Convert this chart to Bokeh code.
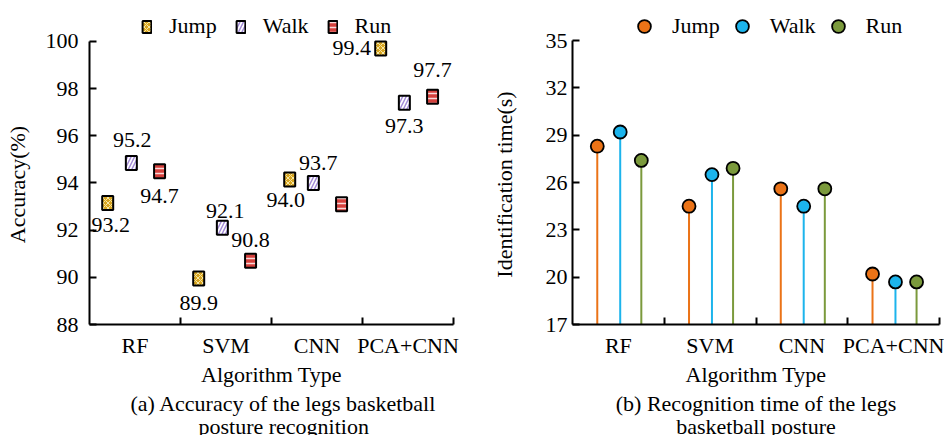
import numpy as np
from bokeh.plotting import figure
from bokeh.models import Range1d, FixedTicker, Legend, LegendItem, ColumnDataSource, Title
from bokeh.layouts import row
from bokeh.embed import file_html
from bokeh.resources import INLINE
from bokeh.core.properties import value

# ---------------- data ----------------
categories = ["RF", "SVM", "CNN", "PCA+CNN"]
series = ["Jump", "Walk", "Run"]

acc_jump = [93.15, 89.95, 94.15, 99.7]
acc_walk = [94.85, 92.1, 94.0, 97.4]
acc_run = [94.5, 90.7, 93.1, 97.65]
acc_jump_labels = ["93.2", "89.9", "94.0", "99.4"]
acc_walk_labels = ["95.2", "92.1", "93.7", "97.3"]
acc_run_labels = ["94.7", "90.8", "", "97.7"]
acc_ticks = [88, 90, 92, 94, 96, 98, 100]

time_jump = [28.3, 24.5, 25.6, 20.2]
time_walk = [29.2, 26.5, 24.5, 19.7]
time_run = [27.4, 26.9, 25.6, 19.7]
time_ticks = [17, 20, 23, 26, 29, 32, 35]

captions = [["(a) Accuracy of the legs basketball", "posture recognition"],
            ["(b) Recognition time of the legs", "basketball posture"]]

# ---------------- styles ----------------
FONT = "Liberation Serif"
FS = "22px"
H = 435
NB = "\u00a0" * 8  # shifts the rotated y-axis label down to sit beside the ticks
# label offsets in px (dx, dy; dy positive = down)
acc_label_offsets = {
    "Jump": [(3, 22), (0, 25), (-4, 21), (-29, 0)],
    "Walk": [(1, -23), (3, -17), (5, -20), (0, 23)],
    "Run": [(0, 25), (0, -21), (0, 0), (0, -27)],
}
acc_dodge = {"Jump": -0.30, "Walk": -0.04, "Run": 0.27}
time_dodge = {"Jump": -0.23, "Walk": 0.02, "Run": 0.25}

acc_style = {
    "Jump": dict(fill_color="#D8A520", hatch_pattern="x", hatch_color="#F6E7A6", hatch_scale=5, hatch_weight=1),
    "Walk": dict(fill_color="#FFFFFF", hatch_pattern="/", hatch_color="#A48CD8", hatch_scale=7, hatch_weight=1.5),
    "Run": dict(fill_color="#D4403C", hatch_pattern="-", hatch_color="#F8DADA", hatch_scale=5, hatch_weight=1.5),
}
time_colors = {"Jump": "#EB7317", "Walk": "#1CB4EC", "Run": "#7B9A3C"}


def top_padded_range(ticks, top_px, axis_px):
    # extend the range above the last tick so the legend can sit inside the frame
    lo, hi = ticks[0], ticks[-1]
    return Range1d(lo, hi + (hi - lo) * top_px / axis_px)


def style_axes(p, y_ticks, y_standoff, y_label_standoff):
    n = len(categories)
    xt = FixedTicker(ticks=[i + 0.5 for i in range(n)], minor_ticks=[i + 1 for i in range(n)])
    p.xaxis.ticker = xt
    p.xaxis.major_label_overrides = {i + 0.5: c for i, c in enumerate(categories)}
    p.yaxis.ticker = FixedTicker(ticks=y_ticks)
    p.yaxis.bounds = (y_ticks[0], y_ticks[-1])
    for ax in (p.xaxis[0], p.yaxis[0]):
        ax.axis_line_width = 2
        ax.axis_line_color = "black"
        ax.major_tick_line_width = 2
        ax.minor_tick_line_width = 2
        ax.major_label_text_font = FONT
        ax.major_label_text_font_size = FS
        ax.major_label_text_color = "black"
        ax.axis_label_text_font = FONT
        ax.axis_label_text_font_size = FS
        ax.axis_label_text_font_style = "normal"
        ax.axis_label_text_color = "black"
    p.xaxis.major_tick_in = 0
    p.xaxis.major_tick_out = 0
    p.xaxis.minor_tick_in = 7
    p.xaxis.minor_tick_out = 0
    p.xaxis.major_label_standoff = 8
    p.xaxis.axis_label_standoff = 1
    p.yaxis.major_tick_in = 7
    p.yaxis.major_tick_out = 0
    p.yaxis.major_label_standoff = y_standoff
    p.yaxis.axis_label_standoff = y_label_standoff
    p.grid.visible = False
    p.outline_line_color = None


def make_legend(items, loc, gw, gh, standoff, spacing):
    return Legend(items=items, orientation="horizontal", location=loc,
                  glyph_width=gw, glyph_height=gh, label_standoff=standoff, spacing=spacing,
                  padding=0, margin=0, border_line_color=None, background_fill_alpha=0,
                  label_text_font=FONT, label_text_font_size=FS, label_text_color="black",
                  label_height=20)


def add_caption(p, lines, aligns, offsets, standoffs):
    for t, al, off, so in zip(lines, aligns, offsets, standoffs):
        p.add_layout(Title(text=t, align=al, offset=off, standoff=so,
                           text_font=FONT, text_font_size=FS, text_font_style="normal",
                           text_color="black"), "below")


# ---------------- left chart ----------------
p1 = figure(width=470, height=H, output_backend="svg", toolbar_location=None,
            x_range=Range1d(0, len(categories)),
            y_range=top_padded_range(acc_ticks, 41, 284),
            min_border_left=89, min_border_right=17, min_border_top=0, min_border_bottom=110,
            x_axis_label="Algorithm Type", y_axis_label="Accuracy(%)" + NB)
style_axes(p1, acc_ticks, 11, 13)

acc_vals = {"Jump": acc_jump, "Walk": acc_walk, "Run": acc_run}
acc_labs = {"Jump": acc_jump_labels, "Walk": acc_walk_labels, "Run": acc_run_labels}
items1 = []
for s in series:
    xs = np.arange(len(categories)) + 0.5 + acc_dodge[s]
    src = ColumnDataSource(dict(x=xs, y=acc_vals[s], lab=acc_labs[s],
                                dx=[o[0] for o in acc_label_offsets[s]],
                                dy=[o[1] for o in acc_label_offsets[s]]))
    r = p1.rect("x", "y", width=11, height=14, width_units="screen", height_units="screen",
                source=src, line_color="black", line_width=2, **acc_style[s])
    p1.text("x", "y", text="lab", x_offset="dx", y_offset="dy", source=src,
            text_align="center", text_baseline="middle", text_font=value(FONT),
            text_font_size=FS, text_color="black")
    items1.append(LegendItem(label=s, renderers=[r]))

p1.add_layout(make_legend(items1, (52, 285), 11, 15, 17, 18))
add_caption(p1, captions[0], ["left", "left"], [41, 109], [-2, -6])

# ---------------- right chart ----------------
p2 = figure(width=474, height=H, output_backend="svg", toolbar_location=None,
            x_range=Range1d(0, len(categories)),
            y_range=top_padded_range(time_ticks, 40, 284),
            min_border_left=102, min_border_right=5, min_border_top=0, min_border_bottom=111,
            x_axis_label="Algorithm Type", y_axis_label="Identification time(s)" + NB)
style_axes(p2, time_ticks, 5, 26)

time_vals = {"Jump": time_jump, "Walk": time_walk, "Run": time_run}
items2 = []
for s in series:
    xs = np.arange(len(categories)) + 0.5 + time_dodge[s]
    src = ColumnDataSource(dict(x=xs, y=time_vals[s], y0=[time_ticks[0]] * len(categories)))
    p2.segment("x", "y0", "x", "y", source=src, line_color=time_colors[s], line_width=2)
    r = p2.scatter("x", "y", source=src, size=13, marker="circle", fill_color=time_colors[s],
                   line_color="black", line_width=1.8)
    items2.append(LegendItem(label=s, renderers=[r]))

p2.add_layout(make_legend(items2, (56, 282), 32, 32, 12, 6))
add_caption(p2, captions[1], ["center", "center"], [0, 0], [-2, -6])

layout = row(p1, p2)
open("out.html", "w").write(file_html(layout, INLINE))
